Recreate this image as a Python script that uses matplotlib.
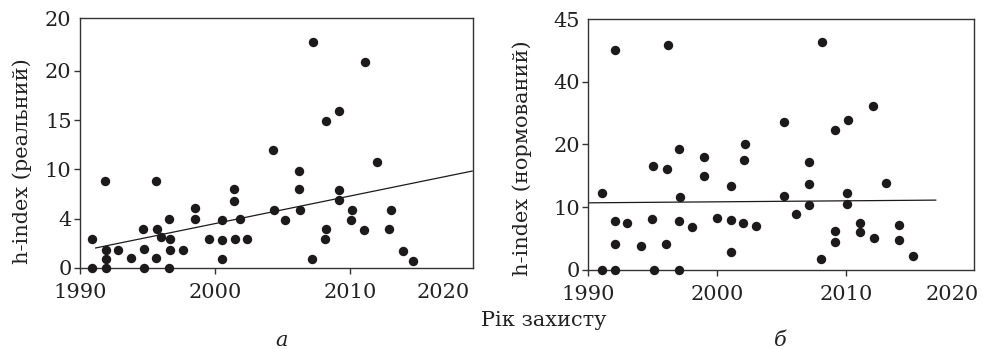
import numpy as np
import matplotlib
matplotlib.use("Agg")
import matplotlib.pyplot as plt

plt.rcParams["font.family"] = ["DejaVu Serif"]

# panel a: real h-index vs defence year
years_a = [1990.9, 1990.9, 1991.85, 1991.9, 1991.9, 1991.9, 1992.8, 1993.8, 1994.7, 1994.77,
           1994.77, 1995.6, 1995.68, 1995.65, 1996.0, 1996.6, 1996.67, 1996.64, 1996.6, 1997.6,
           1998.54, 1998.54, 1999.53, 2000.5, 2000.5, 2000.5, 2001.43, 2001.43, 2001.46, 2001.85,
           2002.37, 2004.27, 2004.35, 2005.2, 2006.2, 2006.2, 2006.3, 2007.23, 2007.19, 2008.2,
           2008.22, 2008.17, 2009.14, 2009.16, 2009.14, 2010.12, 2010.07, 2011.1, 2011.04, 2012.0,
           2013.0, 2012.9, 2013.95, 2014.64]
h_real = [0, 2.94, 8.85, 1.82, 0.95, 0, 1.86, 0.98, 3.99, 1.89,
          0, 8.85, 3.99, 0.98, 3.14, 4.97, 2.97, 1.82, 0, 1.82,
          6.08, 4.97, 2.9, 4.9, 2.87, 0.95, 7.97, 6.82, 2.9, 5.0,
          2.94, 12.0, 5.9, 4.83, 9.86, 7.97, 5.9, 22.87, 0.95, 14.86,
          3.92, 2.9, 15.95, 7.9, 6.89, 5.9, 4.83, 20.88, 3.89, 10.74,
          5.9, 3.99, 1.76, 0.68]
trend_a_years = [1991.16, 2019.04]
trend_a_vals = [2.03, 9.83]

# panel b: normalised h-index
years_b = [1991.08, 1991.1, 1992.06, 1992.06, 1992.06, 1992.06, 1993.04, 1994.07, 1995.03, 1994.97,
           1995.08, 1996.16, 1996.1, 1996.03, 1997.04, 1997.11, 1997.04, 1997.06, 1998.09, 1999.02,
           1999.02, 2000.0, 2001.08, 2001.1, 2001.1, 2002.14, 2002.06, 2002.0, 2003.0, 2005.15,
           2005.18, 2006.13, 2007.09, 2007.11, 2007.14, 2008.12, 2008.07, 2009.1, 2009.1, 2009.12,
           2010.13, 2010.08, 2010.05, 2011.03, 2011.08, 2012.11, 2012.14, 2013.07, 2014.12, 2014.07,
           2015.15]
h_norm = [0, 12.23, 35.0, 7.82, 4.15, 0, 7.55, 3.83, 16.49, 8.19,
          0, 35.74, 16.0, 4.2, 19.2, 11.54, 7.82, 0, 6.9, 17.98,
          15.0, 8.24, 8.03, 13.35, 2.82, 20.1, 17.5, 7.55, 7.02, 23.56,
          11.8, 8.99, 17.18, 13.72, 10.32, 36.28, 1.70, 22.34, 6.17, 4.52,
          23.88, 12.18, 10.48, 7.55, 6.12, 26.17, 5.05, 13.88, 7.13, 4.73,
          2.23]
trend_b_years = [1990.0, 2016.93]
trend_b_vals = [10.69, 11.12]

# tick labels as printed (axis is not labelled uniformly in the source)
yticks_a = [0, 5, 10, 15, 20, 25.35]
ylabels_a = ["0", "4", "10", "15", "20", "20"]
yticks_b = [0, 10, 20, 30, 39.9]
ylabels_b = ["0", "10", "20", "40", "45"]
xlabels = ["1990", "2000", "2010", "2020"]

ink = "#1c1a1a"
txt = "#222222"
fs = 15
fig = plt.figure(figsize=(9.83, 3.49), dpi=100)
ax1 = fig.add_axes([0.0814, 0.2321, 0.3998, 0.7163])
ax2 = fig.add_axes([0.5982, 0.2264, 0.3927, 0.7183])


def style(ax, xs, ys, tx, tv, xmax, ymax, yt, yl, x2020):
    ax.scatter(xs, ys, s=46, color=ink, zorder=3, clip_on=False, linewidths=0)
    ax.plot(tx, tv, color=ink, lw=0.9)
    ax.set_xlim(1990, xmax)
    ax.set_ylim(0, ymax)
    ax.set_xticks([1990, 2000, 2010, x2020])
    ax.set_xticklabels(xlabels)
    ax.set_yticks(yt)
    ax.set_yticklabels(yl)
    ax.tick_params(direction="out", length=4, width=1, colors="#333333",
                   labelsize=fs, labelcolor=txt)
    ax.tick_params(axis="x", pad=7)
    ax.tick_params(axis="y", pad=2)
    ax.xaxis.get_major_ticks()[-1].tick1line.set_visible(False)
    ax.yaxis.get_major_ticks()[-1].tick1line.set_visible(False)
    for sp in ax.spines.values():
        sp.set_color("#333333")
        sp.set_linewidth(1)


style(ax1, years_a, h_real, trend_a_years, trend_a_vals, 2019.1, 25.35,
      yticks_a, ylabels_a, 2016.9)
style(ax2, years_b, h_norm, trend_b_years, trend_b_vals, 2019.9, 39.9,
      yticks_b, ylabels_b, 2018.2)

fig.text(22 / 983, 1 - 161 / 349, "h-index (реальний)", rotation=90,
         ha="center", va="center", fontsize=fs, color=txt)
fig.text(522 / 983, 1 - 158 / 349, "h-index (нормований)", rotation=90,
         ha="center", va="center", fontsize=fs, color=txt)
fig.text(544 / 983, 1 - 320 / 349, "Рік захисту", ha="center", va="center",
         fontsize=fs, color=txt)
fig.text(282 / 983, 1 - 341 / 349, "a", ha="center", va="center",
         fontsize=fs, style="italic", color=txt)
fig.text(780 / 983, 1 - 340 / 349, "б", ha="center", va="center",
         fontsize=fs, style="italic", color=txt)

fig.savefig("out.png", dpi=100)
